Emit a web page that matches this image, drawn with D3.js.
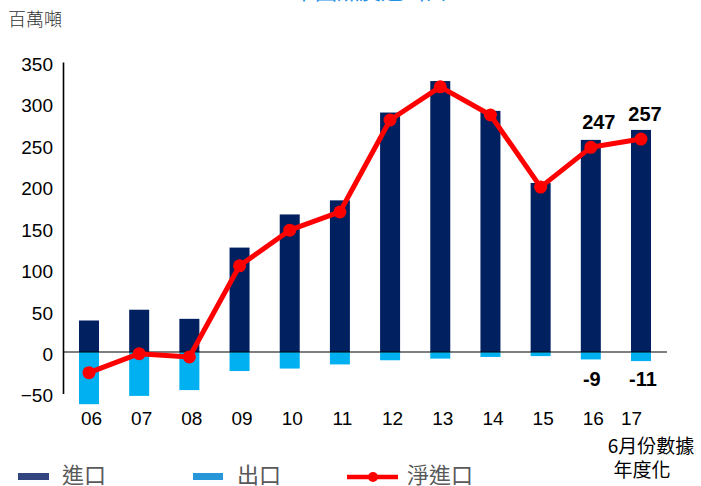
<!DOCTYPE html>
<html>
<head>
<meta charset="utf-8">
<script src="https://cdn.jsdelivr.net/npm/d3@7/dist/d3.min.js"></script>
<style>
  html, body { margin: 0; padding: 0; background: #fff; }
  svg { display: block; }
</style>
</head>
<body>
<svg id="chart" width="701" height="486"></svg>
<script>
// Coal imports / exports / net imports, million tonnes
const years    = ["06", "07", "08", "09", "10", "11", "12", "13", "14", "15", "16", "17"];
const imports  = [38, 51, 40, 126, 166, 183, 289, 327, 291, 204, 256, 268];
const exports_ = [-63, -53, -46, -23, -20, -15, -10, -8, -6, -5, -9, -11];
const netImports = [-25, -2, -6, 104, 147, 169, 280, 320, 286, 199, 247, 257];
const yTicks   = [-50, 0, 50, 100, 150, 200, 250, 300, 350];
const seriesNames = ["進口", "出口", "淨進口"];
const unitLabel = "百萬噸";
const titleText = "中國煤炭進出口";
const lastYearNote = ["6月份數據", "年度化"];

const COL_IMPORT = "#002060";
const COL_EXPORT = "#00b0f0";
const COL_NET = "#ff0000";
const FONT = "'Liberation Sans', Arial, sans-serif";
const CJK = "'Noto Sans CJK TC', 'Noto Sans CJK SC', sans-serif";

const svg = d3.select("#chart");

const x = d3.scalePoint().domain(years).range([89, 641]);
const y = d3.scaleLinear().domain([-50, 350]).range([393.4, 62]);
const barW = 20;

// title (sits mostly above the top edge)
svg.append("text")
  .attr("x", 370).attr("y", -1.5)
  .attr("text-anchor", "middle")
  .style("font-family", CJK).style("font-size", "22px")
  .attr("fill", "#1e8fe6")
  .text(titleText);

// unit label
svg.append("text")
  .attr("x", 8).attr("y", 26)
  .style("font-family", CJK).style("font-size", "18px")
  .style("font-weight", 300)
  .attr("fill", "#333")
  .text(unitLabel);

// import bars
svg.append("g").selectAll("rect")
  .data(years)
  .join("rect")
  .attr("x", d => x(d) - barW / 2)
  .attr("width", barW)
  .attr("y", (d, i) => y(imports[i]))
  .attr("height", (d, i) => y(0) - y(imports[i]))
  .attr("fill", COL_IMPORT);

// export bars
svg.append("g").selectAll("rect")
  .data(years)
  .join("rect")
  .attr("x", d => x(d) - barW / 2)
  .attr("width", barW)
  .attr("y", y(0))
  .attr("height", (d, i) => y(exports_[i]) - y(0))
  .attr("fill", COL_EXPORT);

// y axis
const yAxis = d3.axisLeft(y).tickValues(yTicks).tickSize(0).tickPadding(10);
const gy = svg.append("g").attr("transform", "translate(63,0)").call(yAxis);
gy.select(".domain").attr("stroke", "#000").attr("stroke-width", 1.6);
gy.selectAll("text")
  .style("font-family", FONT).style("font-size", "19px")
  .attr("fill", "#000").attr("dy", "0.45em");

// zero baseline
svg.append("line")
  .attr("x1", 63).attr("x2", 667)
  .attr("y1", y(0)).attr("y2", y(0))
  .attr("stroke", "#000").attr("stroke-width", 1.2);

// x category labels
const xAxis = d3.axisBottom(x).tickSize(0).tickPadding(0);
const gx = svg.append("g").attr("transform", "translate(2,411)").call(xAxis);
gx.select(".domain").remove();
gx.selectAll("text")
  .style("font-family", FONT).style("font-size", "19px")
  .attr("fill", "#000").attr("dy", "0.75em")
  .attr("dx", d => d === "17" ? -12 : 0);

// note under the last category
svg.append("text")
  .attr("x", 651).attr("y", 453)
  .attr("text-anchor", "middle")
  .style("font-family", CJK).style("font-size", "19px")
  .attr("fill", "#000")
  .text(lastYearNote[0]);
svg.append("text")
  .attr("x", 642).attr("y", 477)
  .attr("text-anchor", "middle")
  .style("font-family", CJK).style("font-size", "19px")
  .attr("fill", "#000")
  .text(lastYearNote[1]);

// net import line
const line = d3.line().x((d, i) => x(years[i])).y(d => y(d));
svg.append("path")
  .datum(netImports)
  .attr("d", line)
  .attr("fill", "none")
  .attr("stroke", COL_NET)
  .attr("stroke-width", 5)
  .attr("stroke-linejoin", "round");
svg.append("g").selectAll("circle")
  .data(netImports)
  .join("circle")
  .attr("cx", (d, i) => x(years[i]))
  .attr("cy", d => y(d))
  .attr("r", 6.5)
  .attr("fill", COL_NET);

// value labels for the last two years
const lastIdx = [10, 11];
const netOffsetX = [8, 4];
const expOffsetX = [1, 2];
svg.append("g").selectAll("text")
  .data(lastIdx)
  .join("text")
  .attr("x", (d, k) => x(years[d]) + netOffsetX[k])
  .attr("y", d => y(netImports[d]) - 18)
  .attr("text-anchor", "middle")
  .style("font-family", FONT).style("font-size", "20px").style("font-weight", "bold")
  .attr("fill", "#000")
  .text(d => netImports[d]);
svg.append("g").selectAll("text")
  .data(lastIdx)
  .join("text")
  .attr("x", (d, k) => x(years[d]) + expOffsetX[k])
  .attr("y", 386)
  .attr("text-anchor", "middle")
  .style("font-family", FONT).style("font-size", "20px").style("font-weight", "bold")
  .attr("fill", "#000")
  .text(d => exports_[d]);

// legend
const lg = svg.append("g");
lg.append("rect").attr("x", 18).attr("y", 473).attr("width", 31).attr("height", 7).attr("fill", "#33457f");
lg.append("rect").attr("x", 193).attr("y", 473).attr("width", 30).attr("height", 7).attr("fill", "#2596d8");
lg.append("line").attr("x1", 347).attr("x2", 398).attr("y1", 477).attr("y2", 477)
  .attr("stroke", COL_NET).attr("stroke-width", 4.5);
lg.append("circle").attr("cx", 373).attr("cy", 477).attr("r", 5).attr("fill", COL_NET);
const legendX = [62, 237, 407];
lg.selectAll("text.lt")
  .data(seriesNames)
  .join("text")
  .attr("class", "lt")
  .attr("x", (d, i) => legendX[i])
  .attr("y", 483)
  .style("font-family", CJK).style("font-size", "22px")
  .attr("fill", "#595959")
  .text(d => d);
</script>
</body>
</html>
